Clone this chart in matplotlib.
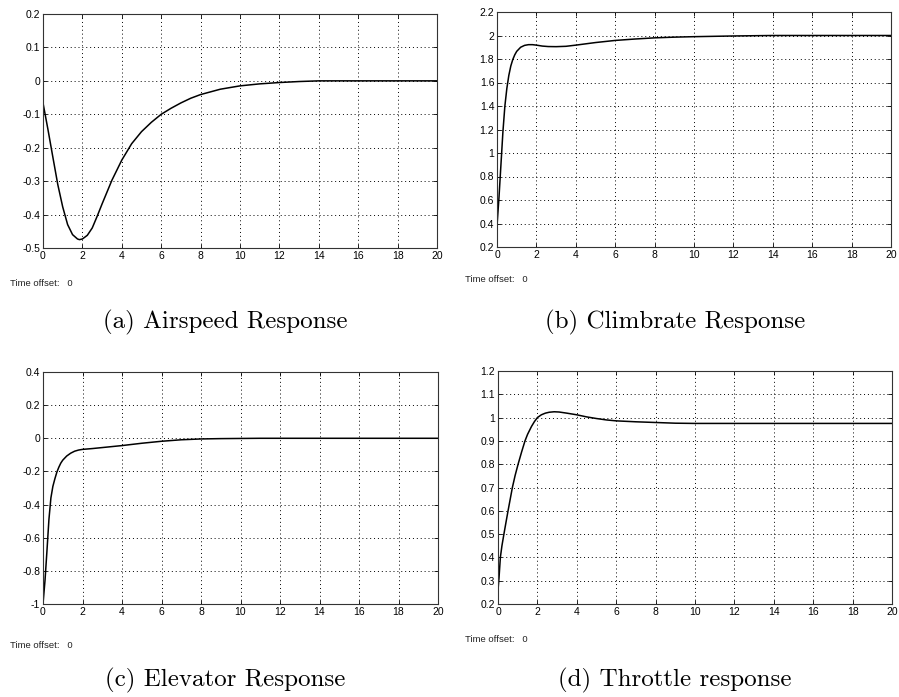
import matplotlib
matplotlib.use("Agg")
import matplotlib.pyplot as plt

plt.rcParams['axes.unicode_minus'] = False

# ---- data ----
t_air = [0, 0.25, 0.5, 0.75, 1.0, 1.25, 1.5, 1.75, 1.85, 2.0, 2.25, 2.5, 2.75, 3.0, 3.5,
         4.0, 4.5, 5.0, 5.5, 6.0, 6.5, 7.0, 7.5, 8.0, 9.0, 10.0, 11.0, 12.0, 13.0, 14.0, 20.0]
airspeed = [-0.066, -0.145, -0.228, -0.31, -0.377, -0.43, -0.46, -0.473, -0.475, -0.473,
            -0.462, -0.44, -0.405, -0.368, -0.297, -0.237, -0.188, -0.152, -0.124, -0.1,
            -0.082, -0.066, -0.052, -0.041, -0.025, -0.015, -0.009, -0.005, -0.002, 0.0, 0.0]

t_climb = [0, 0.1, 0.2, 0.3, 0.4, 0.5, 0.6, 0.7, 0.8, 0.9, 1.0, 1.2, 1.4, 1.6, 1.8, 2.0,
           2.3, 2.6, 3.0, 3.5, 4.0, 5.0, 6.0, 7.0, 8.0, 9.0, 10.0, 12.0, 14.0, 20.0]
climbrate = [0.38, 0.62, 0.9, 1.18, 1.4, 1.55, 1.66, 1.74, 1.795, 1.835, 1.865, 1.9, 1.916,
             1.922, 1.922, 1.918, 1.91, 1.906, 1.905, 1.908, 1.918, 1.94, 1.958, 1.97, 1.98,
             1.986, 1.99, 1.996, 2.0, 2.0]

t_elev = [0, 0.1, 0.2, 0.3, 0.4, 0.5, 0.6, 0.7, 0.8, 0.9, 1.0, 1.2, 1.4, 1.6, 1.8, 2.0,
          2.5, 3.0, 4.0, 5.0, 6.0, 7.0, 8.0, 9.0, 10.0, 11.0, 20.0]
elevator = [-1.0, -0.86, -0.68, -0.49, -0.36, -0.29, -0.245, -0.205, -0.175, -0.15, -0.132,
            -0.107, -0.09, -0.078, -0.071, -0.067, -0.062, -0.056, -0.044, -0.03, -0.018,
            -0.009, -0.004, -0.002, -0.001, 0.0, 0.0]

t_thr = [0, 0.05, 0.12, 0.2, 0.3, 0.4, 0.51, 0.62, 0.73, 0.87, 1.02, 1.2, 1.37, 1.5, 1.7,
         1.85, 2.0, 2.2, 2.4, 2.6, 2.85, 3.1, 3.5, 4.0, 4.5, 5.0, 5.5, 6.0, 7.0, 8.0, 9.0,
         10.0, 20.0]
throttle = [0.26, 0.31, 0.4, 0.45, 0.5, 0.548, 0.6, 0.65, 0.7, 0.752, 0.8, 0.853, 0.9, 0.928,
            0.962, 0.983, 1.0, 1.012, 1.019, 1.023, 1.025, 1.024, 1.019, 1.012, 1.003, 0.996,
            0.99, 0.986, 0.982, 0.979, 0.976, 0.975, 0.975]

x_ticks = [0, 2, 4, 6, 8, 10, 12, 14, 16, 18, 20]
x_labels = ['0', '2', '4', '6', '8', '10', '12', '14', '16', '18', '20']

air_ticks = [-0.5, -0.4, -0.3, -0.2, -0.1, 0, 0.1, 0.2]
air_labels = ['-0.5', '-0.4', '-0.3', '-0.2', '-0.1', '0', '0.1', '0.2']
climb_ticks = [0.2, 0.4, 0.6, 0.8, 1.0, 1.2, 1.4, 1.6, 1.8, 2.0, 2.2]
climb_labels = ['0.2', '0.4', '0.6', '0.8', '1', '1.2', '1.4', '1.6', '1.8', '2', '2.2']
elev_ticks = [-1, -0.8, -0.6, -0.4, -0.2, 0, 0.2, 0.4]
elev_labels = ['-1', '-0.8', '-0.6', '-0.4', '-0.2', '0', '0.2', '0.4']
thr_ticks = [0.2, 0.3, 0.4, 0.5, 0.6, 0.7, 0.8, 0.9, 1.0, 1.1, 1.2]
thr_labels = ['0.2', '0.3', '0.4', '0.5', '0.6', '0.7', '0.8', '0.9', '1', '1.1', '1.2']

captions = ['(a) Airspeed Response', '(b) Climbrate Response',
            '(c) Elevator Response', '(d) Throttle response']

W, H = 899, 697
fig = plt.figure(figsize=(W / 100, H / 100), dpi=100)
fig.patch.set_facecolor('white')


def px_axes(l, t, r, b):
    return fig.add_axes([l / W, 1 - b / H, (r - l) / W, (b - t) / H])


panels = [
    dict(box=(43, 14, 437, 248), t=t_air, y=airspeed, yt=air_ticks, yl=air_labels,
         ylim=(-0.5, 0.2), off=(10, 283), cap=(225, 322)),
    dict(box=(497, 12, 891, 247), t=t_climb, y=climbrate, yt=climb_ticks, yl=climb_labels,
         ylim=(0.2, 2.2), off=(465, 280), cap=(675, 322)),
    dict(box=(43, 372, 438, 604), t=t_elev, y=elevator, yt=elev_ticks, yl=elev_labels,
         ylim=(-1, 0.4), off=(10, 645), cap=(225, 680)),
    dict(box=(498, 371, 892, 604), t=t_thr, y=throttle, yt=thr_ticks, yl=thr_labels,
         ylim=(0.2, 1.2), off=(465, 640), cap=(675, 680)),
]

tick_font = dict(family='Liberation Sans', size=7.5)

for p, cap in zip(panels, captions):
    ax = px_axes(*p['box'])
    ax.plot(p['t'], p['y'], color='black', lw=1.1, solid_joinstyle='round')
    ax.set_xlim(0, 20)
    ax.set_ylim(*p['ylim'])
    ax.set_xticks(x_ticks)
    ax.set_xticklabels(x_labels, **tick_font)
    ax.set_yticks(p['yt'])
    ax.set_yticklabels(p['yl'], **tick_font)
    ax.tick_params(direction='in', length=3, width=0.6, colors='black', pad=2,
                   top=True, right=True)
    ax.grid(True, color='black', linestyle=(0, (1, 3)), linewidth=0.7)
    for s in ax.spines.values():
        s.set_linewidth(0.8)
        s.set_color('#333333')
    fig.text(p['off'][0] / W, 1 - p['off'][1] / H, 'Time offset:   0',
             family='Liberation Sans', size=6.8, va='center', ha='left', color='#222222')
    fig.text(p['cap'][0] / W, 1 - p['cap'][1] / H, cap, family='cmr10', size=18,
             va='center', ha='center', color='black')

fig.savefig('out.png', dpi=100, facecolor='white')
